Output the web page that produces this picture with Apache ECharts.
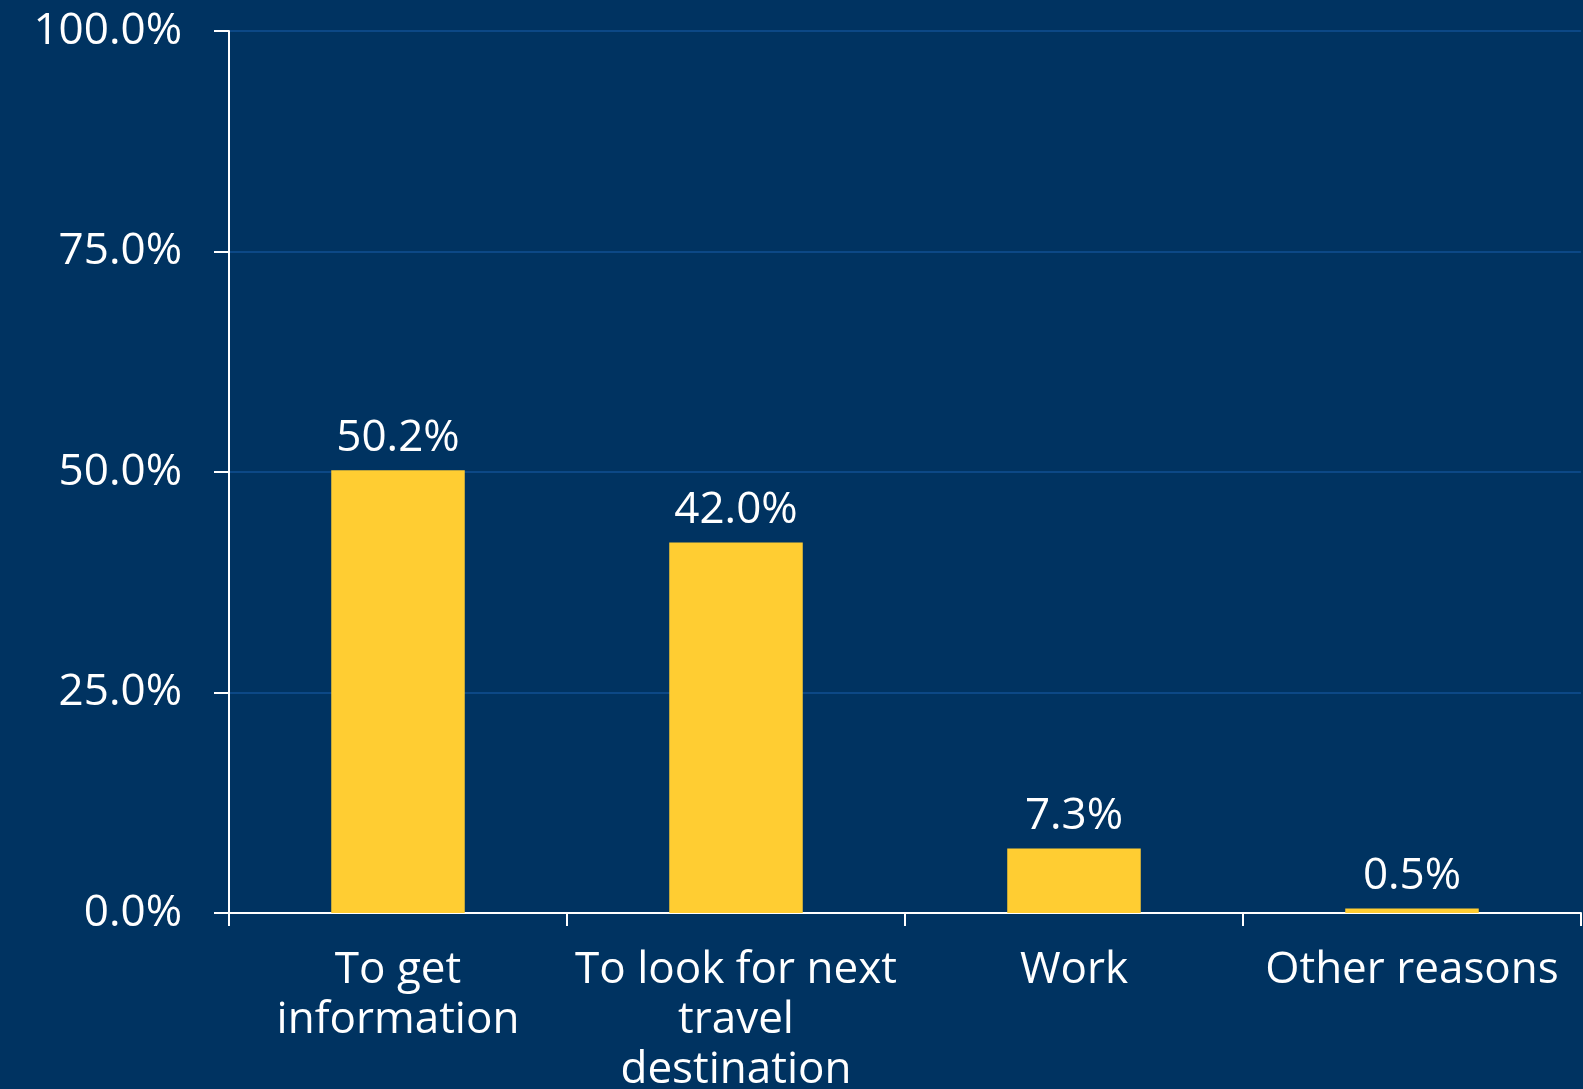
<!DOCTYPE html>
<html>
<head>
<meta charset="utf-8">
<script src="https://cdn.jsdelivr.net/npm/echarts@6/dist/echarts.min.js"></script>
<style>
  html, body { margin: 0; padding: 0; background: #003361; }
  #chart { width: 1583px; height: 1089px; }
</style>
</head>
<body>
<div id="chart"></div>
<script>
// data
const categories = ['To get\ninformation', 'To look for next\ntravel\ndestination', 'Work', 'Other reasons'];
const shares = [50.2, 42.0, 7.3, 0.5];
const yTicks = [0, 25, 50, 75, 100];

const chart = echarts.init(document.getElementById('chart'));

const font = '"Open Sans", Lato, sans-serif';

chart.setOption({
  backgroundColor: '#003361',
  animation: false,
  // fixed plot box; v6 would otherwise shrink it to fit the 3-line label
  grid: { left: 229, right: 2, top: 31, bottom: 176, containLabel: false, outerBoundsMode: 'none' },
  xAxis: {
    type: 'category',
    data: categories,
    axisLine: { lineStyle: { color: '#ffffff', width: 2 } },
    axisTick: { show: true, length: 13, lineStyle: { color: '#ffffff', width: 2 } },
    axisLabel: {
      color: '#ffffff',
      fontFamily: font,
      fontSize: 44,
      lineHeight: 50,
      margin: 32,
      interval: 0
    }
  },
  yAxis: {
    type: 'value',
    min: yTicks[0],
    max: yTicks[yTicks.length - 1],
    interval: 25,
    axisLine: { show: true, lineStyle: { color: '#ffffff', width: 2 } },
    axisTick: { show: true, length: 15, lineStyle: { color: '#ffffff', width: 2 } },
    axisLabel: {
      color: '#ffffff',
      fontFamily: font,
      fontSize: 44,
      margin: 47,
      formatter: v => v.toFixed(1) + '%'
    },
    splitLine: { lineStyle: { color: '#0c4886', width: 2 } }
  },
  series: [{
    type: 'bar',
    data: shares,
    barWidth: '39.5%',
    itemStyle: { color: '#ffcd32' },
    label: {
      show: true,
      position: 'top',
      distance: 10,
      color: '#ffffff',
      fontFamily: font,
      fontSize: 44,
      formatter: p => p.value.toFixed(1) + '%'
    }
  }]
});
</script>
</body>
</html>
